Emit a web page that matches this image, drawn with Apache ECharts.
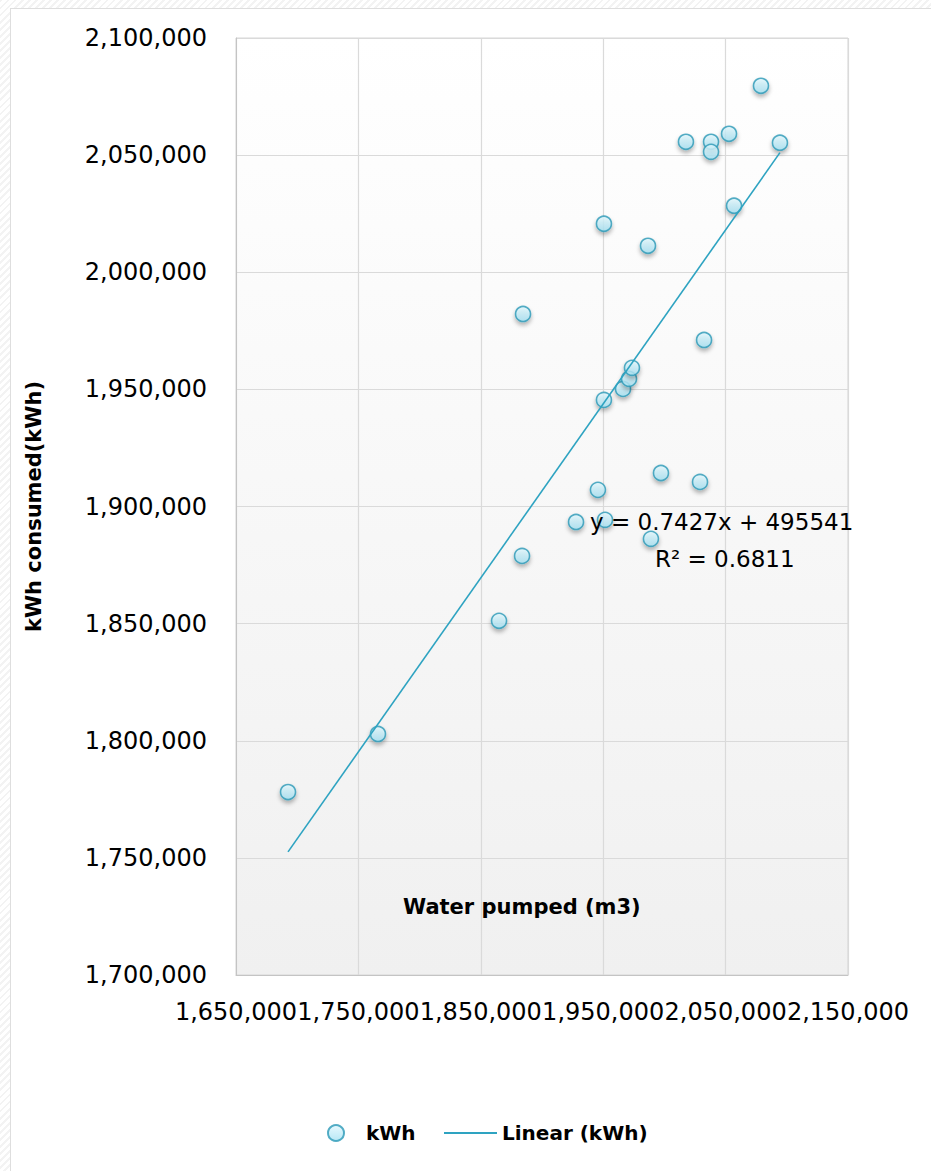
<!DOCTYPE html>
<html>
<head>
<meta charset="utf-8">
<script src="https://cdn.jsdelivr.net/npm/echarts@6/dist/echarts.min.js"></script>
<style>
  html, body { margin: 0; padding: 0; }
  body {
    width: 931px; height: 1171px; overflow: hidden; position: relative;
    background: repeating-linear-gradient(135deg, #f3f3f3 0 2px, #ffffff 2px 5px);
  }
  #card {
    position: absolute; left: 10px; top: 8px; width: 921px; height: 1163px;
    background: #fff; border-left: 1px solid #dedede; border-top: 1px solid #dedede;
  }
  #main { position: absolute; left: 0; top: 0; width: 931px; height: 1171px; }
</style>
</head>
<body>
<div id="card"></div>
<div id="main"></div>
<script>
// water pumped (m3) per month
var waterPumped = [
  1692500, 1766000, 1864900, 1883700, 1884500, 1927800, 1945700, 1951500,
  1950600, 1950600, 1966200, 1971100, 1973500, 1986600, 1989000, 1997200,
  2017600, 2029100, 2032400, 2038100, 2038100, 2052800, 2056900, 2078900,
  2094400
];
// kWh consumed
var kwhConsumed = [
  1778100, 1802900, 1851200, 1878900, 1982200, 1893400, 1907100, 1894300,
  1945500, 2020700, 1950200, 1954500, 1959200, 2011300, 1886200, 1914300,
  2055700, 1910500, 1971100, 2055700, 2051400, 2059100, 2028400, 2079600,
  2055300
];
// excel trendline (linear)
var trendSlope = 0.7427;
var trendIntercept = 495541;
var trendText = ["y = 0.7427x + 495541", "R\u00b2 = 0.6811"];

var fontFam = '"DejaVu Sans", "Lucida Grande", sans-serif';

function fmt(v) {
  return String(v).replace(/\B(?=(\d{3})+(?!\d))/g, ",");
}

function init_scatter(container) {
  var chartDom = document.getElementById(container);
  var myChart = echarts.init(chartDom, null, { renderer: "svg" });

  var points = waterPumped.map(function (x, i) {
    return [x, kwhConsumed[i]];
  });
  var xMin = Math.min.apply(null, waterPumped);
  var xMax = Math.max.apply(null, waterPumped);
  var trend = [
    [xMin, trendSlope * xMin + trendIntercept],
    [xMax, trendSlope * xMax + trendIntercept],
  ];

  var option = {
    animation: false,
    textStyle: { fontFamily: fontFam },
    grid: {
      left: 236,
      right: 83,
      top: 38,
      bottom: 196,
      show: true,
      borderColor: "#d6d6d6",
      borderWidth: 1,
      backgroundColor: new echarts.graphic.LinearGradient(0, 0, 0, 1, [
        { offset: 0, color: "#ffffff" },
        { offset: 1, color: "#f0f0f0" },
      ]),
    },
    legend: [
      {
        data: ["kWh"],
        left: 322,
        top: 1118,
        itemWidth: 16,
        itemHeight: 16,
        textStyle: { fontSize: 20, fontWeight: "bold", color: "#000", padding: [0, 0, 0, 17] },
      },
      {
        data: [{ name: "Linear (kWh)", icon: "rect" }],
        left: 439,
        top: 1118,
        itemWidth: 53,
        itemHeight: 2,
        textStyle: { fontSize: 20, fontWeight: "bold", color: "#000" },
      },
    ],
    xAxis: {
      type: "value",
      min: 1650000,
      max: 2150000,
      interval: 100000,
      axisLine: { show: true, lineStyle: { color: "#c4c4c4" } },
      axisTick: { show: false },
      axisLabel: {
        margin: 25,
        fontSize: 24,
        color: "#000",
        showMinLabel: true,
        showMaxLabel: true,
        formatter: fmt,
      },
      splitLine: { lineStyle: { color: "#dadada", width: 1.2 } },
    },
    yAxis: {
      type: "value",
      min: 1700000,
      max: 2100000,
      interval: 50000,
      name: "kWh consumed(kWh)",
      nameLocation: "middle",
      nameGap: 192,
      nameTextStyle: { fontSize: 21, fontWeight: "bold", color: "#000" },
      axisLine: { show: true, lineStyle: { color: "#c4c4c4" } },
      axisTick: { show: false },
      axisLabel: {
        margin: 29,
        fontSize: 24,
        color: "#000",
        formatter: fmt,
      },
      splitLine: { lineStyle: { color: "#dadada", width: 1.2 } },
    },
    graphic: [
      {
        type: "text",
        left: 403,
        top: 896,
        z: 100,
        style: { text: "Water pumped (m3)", fontSize: 21, fontWeight: "bold", fontFamily: fontFam, fill: "#000" },
      },
      {
        type: "text",
        left: 590,
        top: 510,
        z: 100,
        style: { text: trendText[0], fontSize: 23, fontFamily: fontFam, fill: "#000" },
      },
      {
        type: "text",
        left: 655,
        top: 547,
        z: 100,
        style: { text: trendText[1], fontSize: 23, fontFamily: fontFam, fill: "#000" },
      },
    ],
    series: [
      {
        name: "kWh",
        type: "scatter",
        data: points,
        symbol: "circle",
        symbolSize: 15,
        z: 3,
        itemStyle: {
          color: new echarts.graphic.LinearGradient(0, 0, 0, 1, [
            { offset: 0, color: "#e2f8fe" },
            { offset: 1, color: "#a6e2f3" },
          ]),
          borderColor: "#2b98b6",
          borderWidth: 1.6,
          shadowBlur: 4,
          shadowOffsetY: 3,
          shadowColor: "rgba(0,0,0,0.35)",
        },
      },
      {
        name: "Linear (kWh)",
        type: "line",
        data: trend,
        symbol: "none",
        z: 4,
        lineStyle: { color: "#2ea3c1", width: 1.6 },
        itemStyle: { color: "#2ea3c1" },
      },
    ],
  };

  option && myChart.setOption(option);
  window.addEventListener("resize", function () {
    myChart.resize();
  });
}

init_scatter("main");
</script>
</body>
</html>
